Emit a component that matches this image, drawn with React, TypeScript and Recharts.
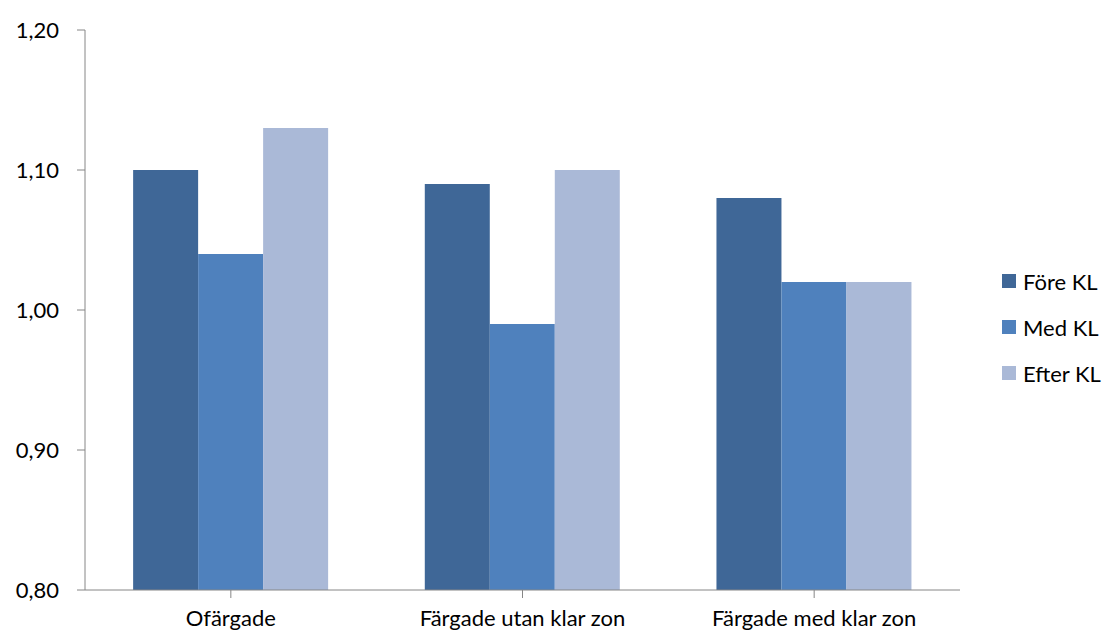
import { Bar, BarChart, CartesianGrid, Legend, XAxis, YAxis } from "recharts";

const categories = ["Ofärgade", "Färgade utan klar zon", "Färgade med klar zon"];
const foreKL = [1.1, 1.09, 1.08];
const medKL = [1.04, 0.99, 1.02];
const efterKL = [1.13, 1.1, 1.02];
const yTicks = [0.8, 0.9, 1.0, 1.1, 1.2];

const series = [
  { key: "fore", name: "Före KL", color: "#3F6797" },
  { key: "med", name: "Med KL", color: "#4F81BD" },
  { key: "efter", name: "Efter KL", color: "#AAB9D7" },
];

const data = categories.map((name, i) => ({
  name,
  fore: foreKL[i],
  med: medKL[i],
  efter: efterKL[i],
}));

const font = "Lato, 'Open Sans', sans-serif";
const axisColor = "#868686";

function LegendBox() {
  return (
    <div style={{ fontFamily: font, fontSize: 22, color: "#000" }}>
      {series.map((s) => (
        <div key={s.key} style={{ display: "flex", alignItems: "center", height: 46 }}>
          <span style={{ width: 14, height: 14, background: s.color, marginRight: 7 }} />
          <span>{s.name}</span>
        </div>
      ))}
    </div>
  );
}

export default function App() {
  return (
    <div style={{ position: "absolute", left: 0, top: 0, background: "#fff" }}>
      <BarChart
        width={1107}
        height={637}
        data={data}
        margin={{ top: 30, right: 147, left: 0, bottom: 17 }}
        barCategoryGap="16.5%"
        barGap={0}
      >
        <CartesianGrid stroke="none" />
        <XAxis
          dataKey="name"
          height={30}
          stroke={axisColor}
          tickSize={8}
          tick={{ fill: "#000", fontSize: 22, fontFamily: font, dy: 10 }}
        />
        <YAxis
          width={85}
          domain={[0.8, 1.2]}
          ticks={yTicks}
          allowDataOverflow
          stroke={axisColor}
          tickSize={8}
          tickFormatter={(v: number) => v.toFixed(2).replace(".", ",")}
          tick={{ fill: "#000", fontSize: 22, fontFamily: font, dx: -16 }}
        />
        <Legend
          layout="horizontal"
          verticalAlign="middle"
          align="center"
          content={<LegendBox />}
          wrapperStyle={{ position: "absolute", left: 1002, top: 258, width: 105 }}
        />
        {series.map((s) => (
          <Bar key={s.key} dataKey={s.key} name={s.name} fill={s.color} isAnimationActive={false} />
        ))}
      </BarChart>
    </div>
  );
}
